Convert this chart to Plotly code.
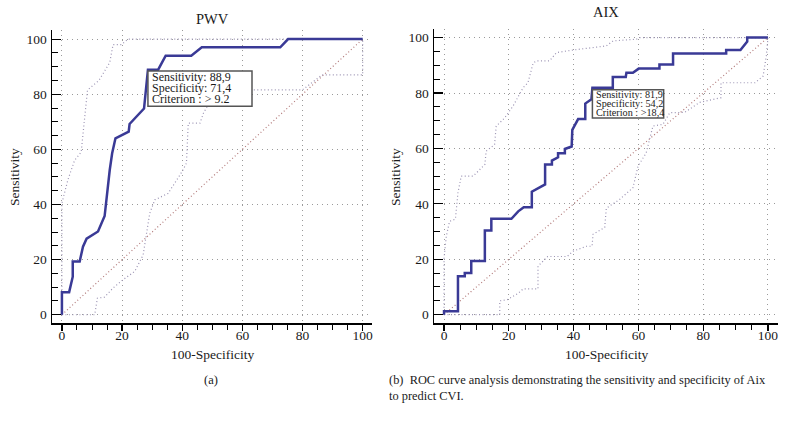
import plotly.graph_objects as go

# ---------------- data ----------------
# PWV ROC curve (x = 100-Specificity, y = Sensitivity)
pwv_x = [0, 0, 2.4, 3.6, 3.6, 5.9, 7.0, 8.2, 12.0, 14.2, 15.9, 16.7, 17.8, 22.2, 22.5, 27.3,
         28.6, 32.0, 34.5, 43.0, 46.5, 72.6, 75.2, 100]
pwv_y = [0, 8.2, 8.2, 13.8, 19.3, 19.3, 24.7, 27.6, 30.2, 35.8, 52.5, 58.6, 64.0, 66.4, 69.2, 74.8,
         88.9, 88.9, 94.0, 94.0, 97.0, 97.0, 100, 100]

pwv_up_x = [0, 0, 2.0, 4.2, 6.4, 8.1, 8.5, 12.3, 15.9, 17.0, 19.8, 22.0, 100]
pwv_up_y = [0, 40.5, 49.0, 56.0, 59.0, 79.0, 81.5, 85.0, 91.5, 98.0, 98.0, 100, 100]

pwv_lo_x = [0, 10.9, 11.8, 14.2, 17.0, 20.3, 24.2, 27.0, 29.2, 30.9, 35.3, 37.6, 40.0, 41.4, 42.0,
            45.9, 47.0, 49.0, 55.0, 63.5, 80.0, 86.5, 100, 100]
pwv_lo_y = [0, 0, 6.0, 6.4, 9.7, 12.7, 15.7, 21.7, 36.8, 41.7, 44.0, 47.7, 52.0, 55.0, 69.5,
            69.5, 73.0, 77.0, 80.0, 81.6, 81.6, 87.0, 87.0, 100]

# AIX ROC curve
aix_x = [0, 0, 4.3, 4.3, 6.4, 6.4, 8.4, 8.4, 12.6, 12.6, 14.6, 14.6, 20.8, 22.9, 24.6, 27.1,
         27.1, 31.2, 31.2, 33.3, 33.3, 35.2, 35.2, 37.3, 37.3, 39.4, 39.6, 41.4, 43.6, 43.6,
         45.5, 45.8, 52.1, 52.1, 56.1, 56.3, 58.3, 60.1, 66.5, 66.5, 70.7, 70.7, 87.1, 87.1,
         91.5, 93.6, 93.6, 100]
aix_y = [0, 1.2, 1.2, 13.9, 13.9, 15.0, 15.0, 19.4, 19.4, 30.4, 30.4, 34.6, 34.6, 37.3, 38.8, 38.8,
         44.4, 47.0, 54.2, 54.2, 55.6, 56.8, 58.3, 58.3, 59.8, 60.7, 66.7, 70.6, 70.6, 76.2,
         77.7, 81.9, 81.9, 85.8, 85.8, 87.3, 87.3, 88.8, 88.8, 90.3, 90.3, 94.3, 94.3, 95.5,
         95.5, 98.6, 100, 100]

aix_up_x = [0, 0, 0.7, 1.7, 3.5, 4.3, 5.3, 9.0, 12.6, 13.0, 15.6, 16.1, 18.7, 21.3, 24.4, 25.9,
            27.5, 28.5, 32.6, 34.7, 39.8, 50.1, 52.2, 59.4, 60.4, 100]
aix_up_y = [0, 20.5, 28.3, 33.7, 34.5, 44.0, 50.0, 50.0, 54.2, 59.0, 61.4, 68.0, 71.0, 75.3, 81.9,
            83.7, 90.8, 91.6, 91.6, 94.6, 95.5, 97.0, 98.8, 99.4, 100, 100]

aix_lo_x = [0, 17.2, 17.2, 19.5, 23.0, 24.4, 29.0, 29.0, 32.0, 38.0, 39.8, 44.0, 45.7, 46.0, 49.6,
            50.1, 54.2, 58.3, 59.9, 62.4, 64.5, 67.6, 69.7, 74.3, 78.9, 83.5, 85.5, 85.5,
            96.0, 98.5, 99.5, 100]
aix_lo_y = [0, 0, 5.0, 5.4, 7.8, 9.3, 9.3, 17.5, 21.0, 21.0, 22.9, 24.7, 24.7, 29.0, 31.5,
            38.4, 41.6, 45.8, 53.6, 58.4, 68.1, 68.7, 72.9, 73.0, 76.6, 77.9, 78.3, 83.7,
            83.7, 86.1, 93.4, 100]

diag_x = [0, 100]
diag_y = [0, 100]

tick_labels = ["0", "20", "40", "60", "80", "100"]
tick_vals = [0, 20, 40, 60, 80, 100]

pwv_box = ["Sensitivity: 88,9", "Specificity: 71,4", "Criterion : > 9.2"]
aix_box = ["Sensitivity: 81,9", "Specificity: 54,2", "Criterion : >18,4"]

# ---------------- style ----------------
SERIF = "Liberation Serif"
MAIN = "#3a3a96"
CI = "#9b93b3"
DIAG = "#b27a7a"
GRID = "#9a9a9a"

fig = go.Figure()


def add_panel(xa, ya, mx, my, ux, uy, lx, ly):
    fig.add_trace(go.Scatter(x=diag_x, y=diag_y, mode="lines", xaxis=xa, yaxis=ya,
                             line=dict(color=DIAG, width=1.2, dash="1px,2.5px"), hoverinfo="skip"))
    fig.add_trace(go.Scatter(x=ux, y=uy, mode="lines", xaxis=xa, yaxis=ya,
                             line=dict(color=CI, width=1.2, dash="1px,2.5px"), hoverinfo="skip"))
    fig.add_trace(go.Scatter(x=lx, y=ly, mode="lines", xaxis=xa, yaxis=ya,
                             line=dict(color=CI, width=1.2, dash="1px,2.5px"), hoverinfo="skip"))
    fig.add_trace(go.Scatter(x=mx, y=my, mode="lines", xaxis=xa, yaxis=ya,
                             line=dict(color=MAIN, width=2.5), hoverinfo="skip"))


add_panel("x", "y", pwv_x, pwv_y, pwv_up_x, pwv_up_y, pwv_lo_x, pwv_lo_y)
add_panel("x2", "y2", aix_x, aix_y, aix_up_x, aix_up_y, aix_lo_x, aix_lo_y)

tickfont = dict(family=SERIF, size=13.5, color="#1a1a1a")


def xaxis_cfg(domain, rng, anchor):
    return dict(domain=domain, range=rng, anchor=anchor, tickmode="array", tickvals=tick_vals,
                ticktext=tick_labels, showgrid=True, gridcolor=GRID, griddash="1px,4px",
                gridwidth=1, zeroline=False, showline=True, linecolor="black", linewidth=1.5,
                ticks="outside", ticklen=6, tickwidth=1.2, tickcolor="black",
                ticklabelstandoff=-7,
                minor=dict(tick0=0, dtick=5, ticks="outside", ticklen=5, tickwidth=1,
                           tickcolor="black", showgrid=False),
                tickfont=tickfont, fixedrange=True, automargin=False)


def yaxis_cfg(domain, rng, anchor):
    return dict(domain=domain, range=rng, anchor=anchor, tickmode="array", tickvals=tick_vals,
                ticktext=tick_labels, showgrid=True, gridcolor=GRID, griddash="1px,4px",
                gridwidth=1, zeroline=False, showline=True, linecolor="black", linewidth=1.5,
                ticks="inside", ticklen=9, tickwidth=1.2, tickcolor="black",
                ticklabelstandoff=1,
                minor=dict(tick0=0, dtick=5, ticks="inside", ticklen=6, tickwidth=1,
                           tickcolor="black", showgrid=False),
                tickfont=tickfont, fixedrange=True, automargin=False)


W, H = 790, 423
fig.update_layout(
    width=W, height=H, autosize=False,
    margin=dict(l=0, r=0, t=0, b=0),
    paper_bgcolor="white", plot_bgcolor="white",
    showlegend=False, hovermode=False,
    xaxis=xaxis_cfg([52 / W, 372 / W], [-3.3, 103.1], "y"),
    yaxis=yaxis_cfg([1 - 323 / H, 1 - 30 / H], [-3.0, 103.3], "x"),
    xaxis2=xaxis_cfg([434 / W, 778 / W], [-3.1, 103.1], "y2"),
    yaxis2=yaxis_cfg([1 - 323 / H, 1 - 29 / H], [-3.0, 103.1], "x2"),
)

ann = []


def txt(x, y, s, size=13, xanchor="center", yanchor="middle", angle=0, xref="paper", yref="paper",
        align="center"):
    ann.append(dict(x=x, y=y, xref=xref, yref=yref, text=s, showarrow=False, xanchor=xanchor,
                    yanchor=yanchor, textangle=angle, align=align,
                    font=dict(family=SERIF, size=size, color="#1a1a1a")))


# panel titles
txt(212 / W, 1 - 19 / H, "PWV", 14.5)
txt(606 / W, 1 - 12 / H, "AIX", 14.5)
# axis titles
txt(14 / W, 1 - 177 / H, "Sensitivity", 13.5, angle=-90)
txt(395 / W, 1 - 177 / H, "Sensitivity", 13.5, angle=-90)
txt(212 / W, 1 - 354 / H, "100-Specificity", 13.5)
txt(606 / W, 1 - 354 / H, "100-Specificity", 13.5)
# captions
txt(211 / W, 1 - 380 / H, "(a)", 12.5)
txt(387 / W, 1 - 371 / H,
    "(b)  ROC curve analysis demonstrating the sensitivity and specificity of Aix<br>to predict CVI.",
    12.4, xanchor="left", yanchor="top", align="left")

# cutoff boxes
shapes = []
shapes.append(dict(type="rect", xref="x", yref="y", x0=28.6, x1=63.2, y0=75.6, y1=88.4,
                   line=dict(color="#555555", width=1.5), fillcolor="white", layer="above"))
for s, yy in zip(pwv_box, [86.1, 82.1, 78.2]):
    txt(29.4, yy, s, 12, xanchor="left", xref="x", yref="y")

shapes.append(dict(type="rect", xref="x2", yref="y2", x0=45.8, x1=67.8, y0=71.0, y1=81.2,
                   line=dict(color="#555555", width=1.5), fillcolor="white", layer="above"))
for s, yy in zip(aix_box, [79.5, 76.2, 72.9]):
    txt(46.2, yy, s, 10.2, xanchor="left", xref="x2", yref="y2")

fig.update_layout(annotations=ann, shapes=shapes)

fig.write_html("out.html", config={"displayModeBar": False, "staticPlot": True},
               post_script="document.body.style.margin='0';")
